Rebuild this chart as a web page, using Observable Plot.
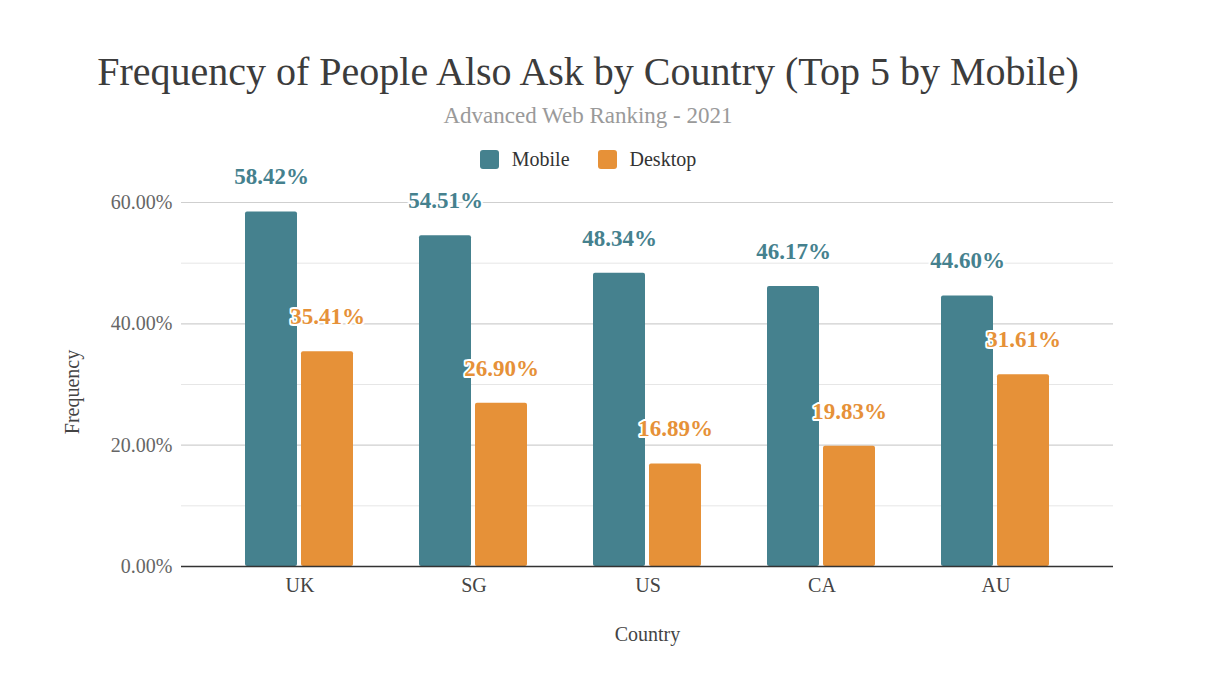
<!DOCTYPE html>
<html>
<head>
<meta charset="utf-8">
<script src="https://cdn.jsdelivr.net/npm/d3@7"></script>
<script src="https://cdn.jsdelivr.net/npm/@observablehq/plot@0.6"></script>
<style>
  html, body { margin: 0; padding: 0; background: #fff; }
  #wrap { position: relative; width: 1212px; height: 686px; font-family: "Liberation Serif", "Times New Roman", serif; }
  #wrap svg { position: absolute; left: 0; top: 0; }
  .abs { position: absolute; white-space: nowrap; }
  #title { left: 0; width: 1176px; text-align: center; top: 52px; font-size: 40px; line-height: 40px; color: #3c3c3c; }
  #subtitle { left: 0; width: 1176px; text-align: center; top: 104px; font-size: 23px; line-height: 23px; color: #9a9a9a; }
  #legend { left: 0; width: 1176px; top: 149px; display: flex; justify-content: center; align-items: center; font-size: 20px; line-height: 20px; color: #333; }
  #legend .item { display: flex; align-items: center; margin: 0 14px; }
  #legend .sw { width: 19px; height: 19px; border-radius: 3px; margin-right: 13px; }
  #ylabel { left: 72px; top: 392px; transform: translate(-50%, -50%) rotate(-90deg); font-size: 20px; line-height: 20px; color: #444; }
  #xlabel { left: 0; width: 1295px; text-align: center; top: 624px; font-size: 20px; line-height: 20px; color: #444; }
</style>
</head>
<body>
<div id="wrap">
  <div id="back"></div>
  <div id="chart"></div>
  <div id="front"></div>
  <div id="title" class="abs"></div>
  <div id="subtitle" class="abs"></div>
  <div id="legend" class="abs"></div>
  <div id="ylabel" class="abs"></div>
  <div id="xlabel" class="abs"></div>
</div>
<script>
const titleText = "Frequency of People Also Ask by Country (Top 5 by Mobile)";
const subtitleText = "Advanced Web Ranking - 2021";
const xTitle = "Country";
const yTitle = "Frequency";
const countries = ["UK", "SG", "US", "CA", "AU"];
const series = ["Mobile", "Desktop"];
const mobile = [58.42, 54.51, 48.34, 46.17, 44.60];
const desktop = [35.41, 26.90, 16.89, 19.83, 31.61];
const colors = ["#45818e", "#e69138"];
const majorTicks = [0, 20, 40, 60];
const minorTicks = [10, 30, 50];
const yDomain = [0, 60];

const data = [];
countries.forEach((c, i) => {
  data.push({country: c, series: "Mobile", value: mobile[i]});
  data.push({country: c, series: "Desktop", value: desktop[i]});
});

document.getElementById("title").textContent = titleText;
document.getElementById("subtitle").textContent = subtitleText;
document.getElementById("xlabel").textContent = xTitle;
document.getElementById("ylabel").textContent = yTitle;
const legend = document.getElementById("legend");
series.forEach((s, i) => {
  const it = document.createElement("div");
  it.className = "item";
  const sw = document.createElement("div");
  sw.className = "sw";
  sw.style.background = colors[i];
  const lb = document.createElement("span");
  lb.textContent = s;
  it.appendChild(sw); it.appendChild(lb);
  legend.appendChild(it);
});

const fmt = d => d.toFixed(2) + "%";
const frame = {
  width: 1212, height: 686,
  marginLeft: 181, marginRight: 99, marginTop: 202, marginBottom: 120,
  style: {fontFamily: "Liberation Serif, Times New Roman, serif", fontSize: "20px", background: "transparent", overflow: "visible"}
};

// background layer: gridlines and y axis across the full frame
const back = Plot.plot({
  ...frame,
  x: {axis: null},
  y: {domain: yDomain, axis: null},
  marks: [
    Plot.ruleY(minorTicks, {stroke: "#e6e6e6", strokeWidth: 1}),
    Plot.ruleY(majorTicks, {stroke: "#cfcfcf", strokeWidth: 1.2}),
    Plot.axisY({ticks: majorTicks, tickFormat: fmt, tickSize: 0, tickPadding: 9, label: null, fill: "#666", fontSize: 20})
  ]
});
document.getElementById("back").appendChild(back);

// main layer: grouped bars via country facets
const chart = Plot.plot({
  ...frame,
  fx: {domain: countries, paddingInner: 0.376, paddingOuter: 0.352, tickSize: 0, tickPadding: 11, label: null, axis: "bottom"},
  x: {domain: series, paddingInner: 0.07, paddingOuter: 0, axis: null},
  y: {domain: yDomain, axis: null},
  color: {domain: series, range: colors},
  marks: [
    Plot.barY(data, {fx: "country", x: "series", y: "value", fill: "series", rx: 2}),
    Plot.text(data, {fx: "country", x: "series", y: "value", text: d => fmt(d.value), fill: "series",
      dy: -35, fontWeight: "bold", fontSize: 23, stroke: "white", strokeWidth: 4})
  ]
});
chart.querySelectorAll('[aria-label="fx-axis tick label"]').forEach(e => e.setAttribute("fill", "#444"));
document.getElementById("chart").appendChild(chart);

// front layer: baseline
const front = Plot.plot({
  ...frame,
  x: {axis: null},
  y: {domain: yDomain, axis: null},
  marks: [Plot.ruleY([0], {stroke: "#333", strokeWidth: 1.5})]
});
front.style.pointerEvents = "none";
document.getElementById("front").appendChild(front);
</script>
</body>
</html>
